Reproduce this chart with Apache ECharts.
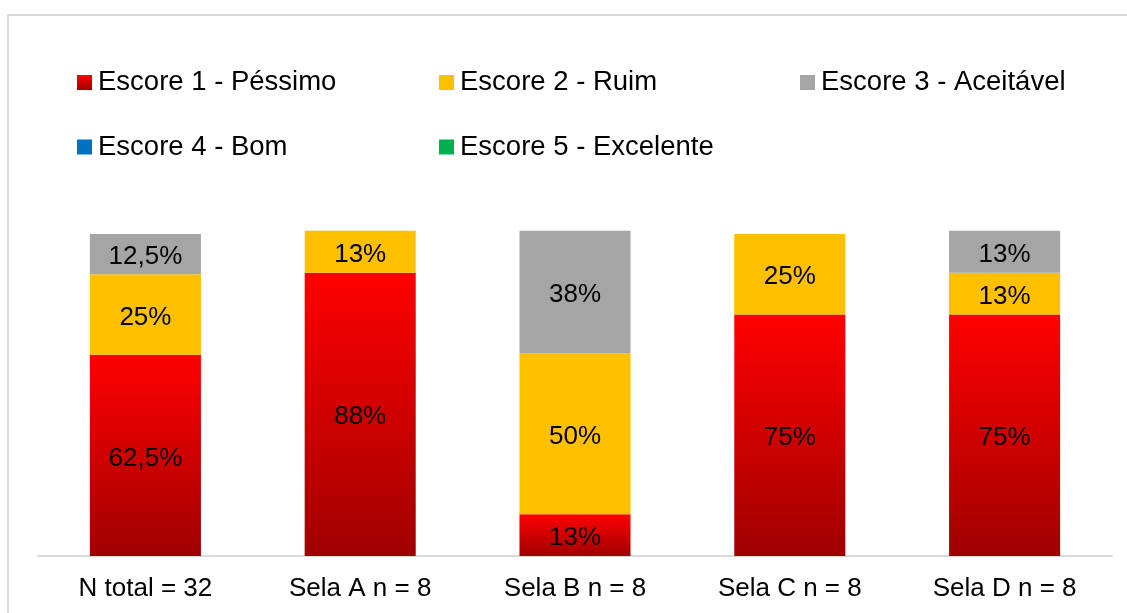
<!DOCTYPE html>
<html>
<head>
<meta charset="utf-8">
<style>
  html, body { margin: 0; padding: 0; background: #ffffff; }
  #chart { width: 1127px; height: 613px; }
</style>
<script src="https://cdn.jsdelivr.net/npm/echarts@6/dist/echarts.min.js"></script>
</head>
<body>
<div id="chart"></div>
<script>
// Distribution of scores per group (percent of evaluations)
const categories = ['N total = 32', 'Sela A n = 8', 'Sela B n = 8', 'Sela C n = 8', 'Sela D n = 8'];
const seriesNames = ['Escore 1 - Péssimo', 'Escore 2 - Ruim', 'Escore 3 - Aceitável', 'Escore 4 - Bom', 'Escore 5 - Excelente'];
const escore1 = [62.5, 88, 13, 75, 75];
const escore2 = [25, 13, 50, 25, 13];
const escore3 = [12.5, 0, 38, 0, 13];
const escore4 = [0, 0, 0, 0, 0];
const escore5 = [0, 0, 0, 0, 0];

const FONT = '"Liberation Sans", Arial, sans-serif';

const redGradient = new echarts.graphic.LinearGradient(0, 0, 0, 1, [
  { offset: 0, color: '#ff0000' },
  { offset: 1, color: '#a00000' }
]);
const colors = [redGradient, '#ffc000', '#a5a5a5', '#0070c0', '#00b050'];
const values = [escore1, escore2, escore3, escore4, escore5];

function pct(p) {
  if (!p.value) return '';
  return String(p.value).replace('.', ',') + '%';
}

const series = seriesNames.map((name, i) => ({
  name: name,
  type: 'bar',
  stack: 'total',
  barWidth: '51.7%',
  clip: false,
  data: values[i],
  itemStyle: { color: colors[i] },
  label: {
    show: true,
    position: 'inside',
    offset: [0, 3],
    formatter: pct,
    color: '#000000',
    fontFamily: FONT,
    fontSize: 26
  },
  emphasis: { disabled: true }
}));

// legend entries laid out in two rows, three columns
const legendSlots = [
  { left: 77, top: 65 },
  { left: 439, top: 65 },
  { left: 800, top: 65 },
  { left: 77, top: 129.5 },
  { left: 439, top: 129.5 }
];
const legends = seriesNames.map((name, i) => ({
  data: [name],
  left: legendSlots[i].left,
  top: legendSlots[i].top,
  padding: 0,
  icon: 'rect',
  itemWidth: 15,
  itemHeight: 15,
  selectedMode: false,
  textStyle: { fontFamily: FONT, fontSize: 27.5, color: '#000000', lineHeight: 24, padding: [11, 0, 0, 1] }
}));

const chart = echarts.init(document.getElementById('chart'), null, { renderer: 'canvas' });
chart.setOption({
  animation: false,
  backgroundColor: '#ffffff',
  graphic: [{
    type: 'rect',
    shape: { x: 8, y: 15, width: 1300, height: 800 },
    style: { fill: 'none', stroke: '#d9d9d9', lineWidth: 2 },
    silent: true,
    z: -1
  }],
  legend: legends,
  grid: { left: 38, right: 15, top: 234, bottom: 57, containLabel: false },
  xAxis: {
    type: 'category',
    data: categories,
    axisLine: { show: true, lineStyle: { color: '#d9d9d9', width: 2 } },
    axisTick: { show: false },
    axisLabel: { color: '#000000', fontFamily: FONT, fontSize: 26, margin: 20 }
  },
  yAxis: {
    type: 'value',
    min: 0,
    max: 100,
    show: false,
    splitLine: { show: false }
  },
  series: series
});
</script>
</body>
</html>
